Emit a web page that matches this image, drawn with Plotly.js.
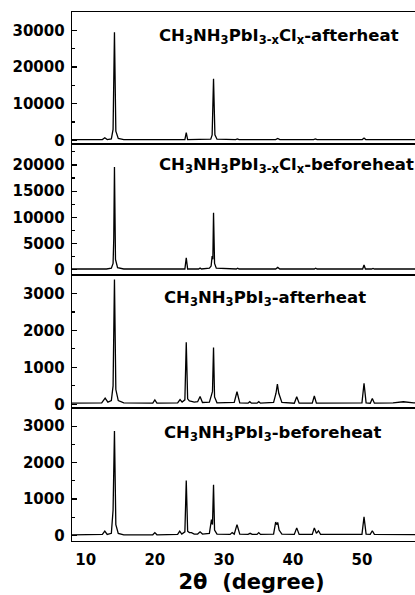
<!DOCTYPE html>
<html>
<head>
<meta charset="utf-8">
<script src="https://cdn.plot.ly/plotly-3.0.1.min.js"></script>
<style>
html, body { margin: 0; padding: 0; overflow: hidden; background: #fff; }
#chart { width: 445px; height: 595px; }
</style>
</head>
<body>
<div id="chart"></div>
<script>
// ---- Data ----
const panelLabels = [
  'CH<sub>3</sub>NH<sub>3</sub>PbI<sub>3-x</sub>Cl<sub>x</sub>-afterheat',
  'CH<sub>3</sub>NH<sub>3</sub>PbI<sub>3-x</sub>Cl<sub>x</sub>-beforeheat',
  'CH<sub>3</sub>NH<sub>3</sub>PbI<sub>3</sub>-afterheat',
  'CH<sub>3</sub>NH<sub>3</sub>PbI<sub>3</sub>-beforeheat'
];
const xTitle = '2θ  (degree)';
const xTicks = [10, 20, 30, 40, 50];

// Panel 1: CH3NH3PbI3-xClx after heat
const x1 = [8, 12.4, 12.75, 13.1, 13.7, 13.95, 14.15, 14.35, 14.7, 15.5,
            24.35, 24.55, 24.75,
            28.1, 28.3, 28.5, 28.7, 29.0,
            31.7, 31.95, 32.2,
            37.5, 37.8, 38.1,
            43.0, 43.25, 43.5,
            50.05, 50.3, 50.55,
            51.4, 51.6, 51.8,
            60];
const y1 = [200, 200, 700, 200, 400, 3000, 29500, 2500, 500, 200,
            200, 2100, 200,
            300, 1500, 16800, 1500, 300,
            200, 400, 200,
            200, 500, 200,
            200, 400, 200,
            200, 600, 200,
            200, 300, 200,
            200];

// Panel 2: CH3NH3PbI3-xClx before heat
const x2 = [8, 12.5, 12.75, 13.0, 13.7, 13.95, 14.05, 14.15, 14.3, 14.6, 15.5,
            24.35, 24.55, 24.75,
            26.35, 26.55, 26.75,
            27.9, 28.15, 28.3, 28.4, 28.5, 28.65, 28.9,
            31.8, 32.0, 32.2,
            37.5, 37.8, 38.1,
            43.1, 43.3, 43.5,
            50.1, 50.3, 50.5,
            51.4, 51.6, 51.8,
            60];
const y2 = [150, 150, 250, 150, 300, 1200, 6000, 19600, 2000, 400, 150,
            150, 2300, 150,
            150, 350, 150,
            300, 700, 2600, 2000, 10900, 1200, 300,
            150, 300, 150,
            150, 450, 150,
            150, 300, 150,
            150, 900, 150,
            150, 250, 150,
            150];

// Panel 3: CH3NH3PbI3 after heat
const x3 = [8, 12.3, 12.8, 13.2, 13.7, 13.95, 14.15, 14.35, 14.7, 15.5,
            19.7, 20.0, 20.3,
            23.3, 23.65, 23.95,
            24.35, 24.55, 24.75, 25.0, 25.3, 25.7,
            26.2, 26.55, 26.9,
            27.9, 28.2, 28.35, 28.5, 28.65, 29.0,
            31.5, 31.9, 32.3,
            33.5, 33.75, 34.0,
            34.8, 35.05, 35.3,
            37.2, 37.55, 37.75, 37.95, 38.4,
            40.2, 40.55, 40.9,
            42.8, 43.1, 43.4,
            50.0, 50.3, 50.6,
            51.2, 51.5, 51.8,
            54.5, 56.0, 57.5, 60];
const y3 = [30, 40, 170, 60, 100, 500, 3380, 400, 100, 40,
            30, 120, 30,
            40, 130, 60,
            120, 1680, 150, 90, 80, 60,
            70, 210, 50,
            60, 250, 350, 1540, 200, 40,
            50, 340, 40,
            30, 70, 30,
            30, 70, 30,
            50, 300, 545, 300, 50,
            30, 206, 30,
            30, 225, 30,
            40, 570, 40,
            30, 160, 30,
            40, 70, 40, 30];

// Panel 4: CH3NH3PbI3 before heat
const x4 = [8, 12.4, 12.75, 13.1, 13.7, 13.95, 14.15, 14.35, 14.7, 15.5,
            19.7, 20.0, 20.3,
            23.3, 23.6, 23.9,
            24.35, 24.55, 24.75, 25.0, 25.3, 25.7,
            26.2, 26.55, 26.9,
            27.9, 28.2, 28.35, 28.5, 28.65, 29.0,
            30.9, 31.2, 31.5, 31.9, 32.3,
            33.5, 33.8, 34.1,
            34.8, 35.05, 35.3,
            37.2, 37.5, 37.65, 37.8, 38.0, 38.4,
            40.2, 40.55, 40.9,
            42.8, 43.1, 43.4, 43.7, 44.0,
            50.0, 50.3, 50.6,
            51.2, 51.5, 51.8,
            60];
const y4 = [20, 30, 120, 30, 60, 700, 2870, 300, 60, 20,
            20, 80, 20,
            30, 120, 40,
            100, 1510, 120, 80, 80, 40,
            40, 100, 40,
            60, 436, 300, 1390, 150, 40,
            30, 80, 40, 300, 40,
            30, 60, 30,
            30, 80, 30,
            40, 370, 300, 360, 150, 40,
            30, 210, 30,
            30, 210, 60, 130, 30,
            30, 510, 40,
            30, 130, 30,
            20];

const yRanges = [[-1000, 35000], [-1000, 24000], [-100, 3500], [-150, 3500]];
const yDticks = [10000, 5000, 1000, 1000];
const yMinor = [5000, 2500, 500, 500];

// ---- Build plot ----
const xs = [x1, x2, x3, x4];
const ys = [y1, y2, y3, y4];
const domains = [[0.7505, 1], [0.5028, 0.7505], [0.2514, 0.5028], [0, 0.2514]];
const tickFont = {family: 'DejaVu Sans', size: 15, color: '#000', weight: 'bold'};

const traces = xs.map((x, i) => ({
  x: x, y: ys[i], type: 'scatter', mode: 'lines',
  line: {color: '#000', width: 1.3},
  xaxis: i === 0 ? 'x' : 'x' + (i + 1),
  yaxis: i === 0 ? 'y' : 'y' + (i + 1),
  hoverinfo: 'skip', showlegend: false
}));

const layout = {
  width: 445, height: 595,
  margin: {l: 72, r: 14, t: 12, b: 54},
  paper_bgcolor: '#fff', plot_bgcolor: '#fff',
  showlegend: false,
  annotations: [],
};

const panelPos = [[0.2368, 0.954], [0.2368, 0.709], [0.2507, 0.4575], [0.2507, 0.204]];

for (let i = 0; i < 4; i++) {
  const xk = i === 0 ? 'xaxis' : 'xaxis' + (i + 1);
  const yk = i === 0 ? 'yaxis' : 'yaxis' + (i + 1);
  const yref = i === 0 ? 'y' : 'y' + (i + 1);
  const isBottom = i === 3;
  layout[xk] = {
    range: [8, 60], anchor: yref, domain: [0, 1],
    showline: true, mirror: true, linecolor: '#000', linewidth: 1.3,
    showgrid: false, zeroline: false, ticks: '',
    tickvals: xTicks, showticklabels: isBottom, tickfont: tickFont,
    ticklabelstandoff: 5,
  };
  if (isBottom) {
    layout[xk].title = {text: xTitle, font: {family: 'DejaVu Sans', size: 21, color: '#000', weight: 'bold'}, standoff: 6};
  }
  layout[yk] = {
    range: yRanges[i], domain: domains[i], anchor: i === 0 ? 'x' : 'x' + (i + 1),
    showline: true, mirror: true, linecolor: '#000', linewidth: 1.3,
    showgrid: false, zeroline: false,
    ticks: 'inside', ticklen: 5, tickwidth: 1.3, tickcolor: '#000',
    tick0: 0, dtick: yDticks[i], tickformat: 'd', tickfont: tickFont, ticklabelstandoff: 3,
    minor: {ticks: 'inside', ticklen: 3, tickwidth: 1.2, tickcolor: '#000', dtick: yMinor[i], tick0: 0},
  };
  layout.annotations.push({
    text: panelLabels[i], xref: 'paper', yref: 'paper',
    x: panelPos[i][0], y: panelPos[i][1], xanchor: 'left', yanchor: 'middle',
    showarrow: false,
    font: {family: 'DejaVu Sans', size: 16.5, color: '#000', weight: 'bold'}
  });
}

Plotly.newPlot('chart', traces, layout, {staticPlot: true, displayModeBar: false});
</script>
</body>
</html>
